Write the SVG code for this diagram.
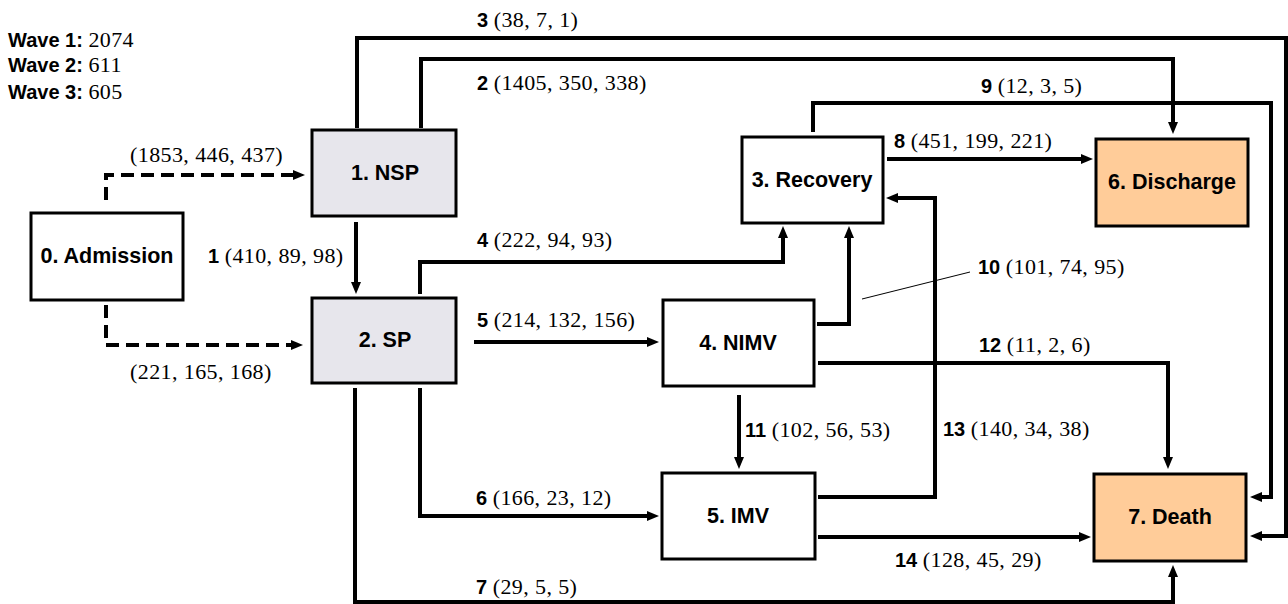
<svg xmlns="http://www.w3.org/2000/svg" width="1288" height="604" viewBox="0 0 1288 604">
<style>
.box{stroke:#000;stroke-width:3;fill:#fff}
.grey{fill:#e7e6ec}
.peach{fill:#ffcc99}
.nl{font-family:"Liberation Sans",Arial,sans-serif;font-weight:bold;font-size:21.5px;text-anchor:middle;dominant-baseline:central}
.c{fill:none;stroke:#000;stroke-width:4;marker-end:url(#ah)}
.d{stroke-dasharray:13 7}
.lb{font-family:"Liberation Sans",Arial,sans-serif;font-weight:bold;font-size:20px}
.num{font-family:"Liberation Serif","Times New Roman",serif;font-weight:normal;font-size:22px;letter-spacing:0.4px}
</style>
<defs>
<marker id="ah" markerUnits="userSpaceOnUse" markerWidth="13" markerHeight="11" refX="1" refY="5" orient="auto" viewBox="0 0 13 10">
<path d="M0,0 L12,5 L0,10 z" fill="#000"/>
</marker>
</defs>
<g id="legend">
<text x="8" y="47"><tspan class="lb">Wave 1: </tspan><tspan class="num">2074</tspan></text>
<text x="8" y="72"><tspan class="lb">Wave 2: </tspan><tspan class="num">611</tspan></text>
<text x="8" y="99"><tspan class="lb">Wave 3: </tspan><tspan class="num">605</tspan></text>
</g>
<g id="connectors">
<path class="c d" d="M106,200 V175 H294"/>
<path class="c d" d="M106,305 V345 H292"/>
<path class="c" d="M356,222 V283"/>
<path class="c" d="M357,128 V38 H1286 V536 H1261"/>
<path class="c" d="M421,128 V59 H1173 V123"/>
<path class="c" d="M813,132 V103 H1271 V497 H1261"/>
<path class="c" d="M887,159 H1082"/>
<path class="c" d="M420,294 V262 H783 V237"/>
<path class="c" d="M817,324 H849 V237"/>
<path class="c" d="M474,342 H648"/>
<path class="c" d="M818,363 H1168 V458"/>
<path class="c" d="M739,395 V458"/>
<path class="c" d="M818,497 H935 V198 H897"/>
<path class="c" d="M420,388 V516 H648"/>
<path class="c" d="M818,537 H1080"/>
<path class="c" d="M355,388 V602 H1173 V576"/>
<line x1="862" y1="299" x2="970" y2="272" stroke="#000" stroke-width="1"/>
</g>
<g id="labels">
<text x="130" y="162" class="num">(1853, 446, 437)</text>
<text x="130" y="379" class="num">(221, 165, 168)</text>
<text x="208" y="263"><tspan class="lb">1 </tspan><tspan class="num">(410, 89, 98)</tspan></text>
<text x="477" y="27"><tspan class="lb">3 </tspan><tspan class="num">(38, 7, 1)</tspan></text>
<text x="477" y="90"><tspan class="lb">2 </tspan><tspan class="num">(1405, 350, 338)</tspan></text>
<text x="981" y="93"><tspan class="lb">9 </tspan><tspan class="num">(12, 3, 5)</tspan></text>
<text x="894" y="148"><tspan class="lb">8 </tspan><tspan class="num">(451, 199, 221)</tspan></text>
<text x="477" y="247"><tspan class="lb">4 </tspan><tspan class="num">(222, 94, 93)</tspan></text>
<text x="978" y="274"><tspan class="lb">10 </tspan><tspan class="num">(101, 74, 95)</tspan></text>
<text x="477" y="327"><tspan class="lb">5 </tspan><tspan class="num">(214, 132, 156)</tspan></text>
<text x="979" y="352"><tspan class="lb">12 </tspan><tspan class="num">(11, 2, 6)</tspan></text>
<text x="745" y="437"><tspan class="lb">11 </tspan><tspan class="num">(102, 56, 53)</tspan></text>
<text x="943" y="436"><tspan class="lb">13 </tspan><tspan class="num">(140, 34, 38)</tspan></text>
<text x="476" y="505"><tspan class="lb">6 </tspan><tspan class="num">(166, 23, 12)</tspan></text>
<text x="895" y="567"><tspan class="lb">14 </tspan><tspan class="num">(128, 45, 29)</tspan></text>
<text x="476" y="594"><tspan class="lb">7 </tspan><tspan class="num">(29, 5, 5)</tspan></text>
</g>
<g id="n0"><rect class="box" x="31" y="213" width="152" height="87"/><text class="nl" x="107" y="256">0. Admission</text></g>
<g id="n1"><rect class="box grey" x="312" y="130" width="144" height="86"/><text class="nl" x="385" y="173">1. NSP</text></g>
<g id="n2"><rect class="box grey" x="312" y="298" width="144" height="85"/><text class="nl" x="385" y="340">2. SP</text></g>
<g id="n3"><rect class="box" x="742" y="137" width="141" height="86"/><text class="nl" x="812" y="180">3. Recovery</text></g>
<g id="n4"><rect class="box" x="663" y="300" width="151" height="86"/><text class="nl" x="738" y="343">4. NIMV</text></g>
<g id="n5"><rect class="box" x="662" y="473" width="153" height="86"/><text class="nl" x="738" y="516">5. IMV</text></g>
<g id="n6"><rect class="box peach" x="1096" y="139" width="152" height="87"/><text class="nl" x="1172" y="182">6. Discharge</text></g>
<g id="n7"><rect class="box peach" x="1094" y="474" width="152" height="87"/><text class="nl" x="1170" y="517">7. Death</text></g>
</svg>
